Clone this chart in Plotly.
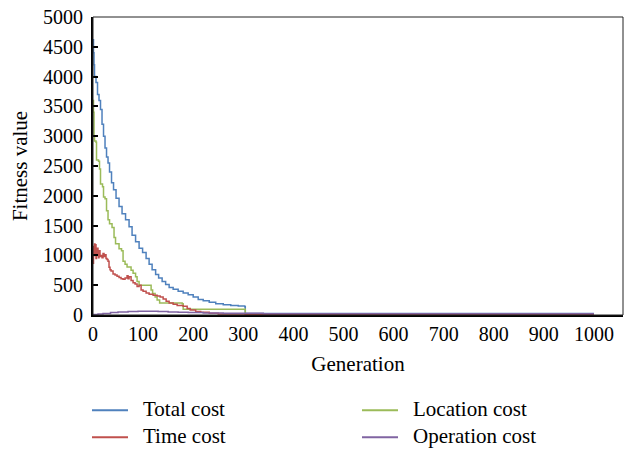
import plotly.graph_objects as go

# ---- data ----
total_gen = [0, 1, 2, 3, 6, 9, 12, 15, 18, 21, 24, 27, 30, 33, 37, 41, 46, 52, 58, 65, 72, 78, 85, 92, 99,
             106, 112, 118, 125, 131, 138, 145, 152, 160, 170, 180, 190, 200, 210, 220, 232, 245, 260, 275,
             290, 303, 304, 1000]
total_val = [4620, 4400, 4200, 4000, 3900, 3700, 3600, 3450, 3200, 3000, 2800, 2650, 2550, 2400, 2220, 2100,
             1960, 1820, 1700, 1600, 1480, 1340, 1230, 1120, 1050, 950, 850, 760, 680, 620, 560, 510, 460,
             430, 400, 370, 340, 300, 260, 240, 215, 190, 170, 160, 150, 140, 25, 25]

location_gen = [0, 1, 2, 3, 6, 7, 11, 13, 15, 19, 21, 24, 27, 30, 33, 38, 42, 45, 52, 57, 60, 64, 68, 76, 80,
                85, 88, 92, 112, 116, 119, 124, 128, 133, 178, 180, 303, 304, 1000]
location_val = [3600, 3400, 3000, 2920, 2900, 2600, 2580, 2450, 2200, 2150, 1980, 1950, 1750, 1600, 1530, 1470,
                1300, 1195, 1110, 1080, 900, 850, 805, 750, 700, 640, 560, 500, 500, 420, 360, 300, 250, 200,
                190, 95, 95, 8, 8]

time_gen = [0, 1, 2, 3, 4, 5, 6, 7, 8, 9, 10, 11, 12, 13, 14, 16, 18, 20, 22, 24, 26, 28, 30, 32, 34, 36, 40,
            44, 48, 52, 56, 60, 64, 68, 70, 72, 76, 80, 84, 88, 92, 96, 100, 106, 112, 120, 128, 134, 140,
            146, 152, 160, 168, 180, 188, 194, 205, 215, 232, 250, 303, 304, 1000]
time_val = [870, 1150, 1000, 1190, 1050, 1180, 950, 1100, 1000, 1120, 1030, 960, 1060, 1080, 980, 1000, 960,
            1030, 980, 1010, 950, 930, 900, 800, 760, 740, 690, 670, 650, 630, 610, 600, 620, 660, 610, 640,
            580, 540, 520, 480, 500, 420, 400, 370, 350, 330, 320, 300, 270, 230, 200, 180, 160, 145, 110,
            85, 60, 45, 28, 18, 15, 5, 5]

operation_gen = [0, 10, 20, 35, 50, 70, 90, 110, 130, 150, 170, 190, 220, 260, 300, 340, 1000]
operation_val = [10, 15, 25, 40, 50, 60, 65, 62, 58, 52, 45, 40, 35, 30, 28, 22, 22]

x_ticks = [0, 100, 200, 300, 400, 500, 600, 700, 800, 900, 1000]
y_ticks = [0, 500, 1000, 1500, 2000, 2500, 3000, 3500, 4000, 4500, 5000]

FONT = "Liberation Serif"
W, H = 629, 451
ML, MR, MT, MB = 93, 6, 15, 136
PW, PH = W - ML - MR, H - MT - MB

series = [
    ("Total cost", total_gen, total_val, "#4F81BD"),
    ("Location cost", location_gen, location_val, "#9BBB59"),
    ("Time cost", time_gen, time_val, "#C0504D"),
    ("Operation cost", operation_gen, operation_val, "#8064A2"),
]
# legend slots (pixel layout): column x of line start, row y
legend_slots = {"Total cost": (92, 411), "Time cost": (92, 438),
                "Location cost": (362, 411), "Operation cost": (362, 438)}


def px_x(p):
    return (p - ML) / PW


def px_y(p):
    return (H - MB - p) / PH


fig = go.Figure()
shapes = [dict(type="rect", xref="paper", yref="paper", x0=0, x1=1, y0=0, y1=1,
               line=dict(color="#222", width=1), layer="above")]
annotations = []
for name, xs, ys, col in series:
    fig.add_trace(go.Scatter(x=xs, y=ys, mode="lines", name=name, showlegend=False,
                             line=dict(color=col, width=1.5, shape="hv")))
    lx, ly = legend_slots[name]
    shapes.append(dict(type="line", xref="paper", yref="paper",
                       x0=px_x(lx), x1=px_x(lx + 36), y0=px_y(ly), y1=px_y(ly),
                       line=dict(color=col, width=2)))
    annotations.append(dict(text=name, xref="paper", yref="paper", x=px_x(lx + 49), y=px_y(ly - 1),
                            xanchor="left", yanchor="middle", showarrow=False,
                            font=dict(family=FONT, size=21, color="black")))

fig.update_layout(
    width=W, height=H,
    margin=dict(l=ML, r=MR, t=MT, b=MB),
    paper_bgcolor="white", plot_bgcolor="white",
    font=dict(family=FONT, size=20, color="black"),
    showlegend=False,
    shapes=shapes, annotations=annotations,
)
fig.update_xaxes(range=[0, 1058], tickvals=x_ticks, ticktext=[str(v) for v in x_ticks],
                 showgrid=False, zeroline=False, showline=True, linecolor="black", linewidth=2,
                 ticks="", tickfont=dict(size=20),
                 title=dict(text="Generation", standoff=12, font=dict(size=21)))
fig.update_yaxes(range=[0, 5000], tickvals=y_ticks, ticktext=[str(v) for v in y_ticks],
                 showgrid=False, zeroline=False, showline=True, linecolor="black", linewidth=2,
                 ticks="inside", ticklen=5, tickwidth=1.5, tickcolor="black", ticklabelstandoff=4,
                 tickfont=dict(size=20),
                 title=dict(text="Fitness value", standoff=10, font=dict(size=21)))

fig.write_html("out.html")
